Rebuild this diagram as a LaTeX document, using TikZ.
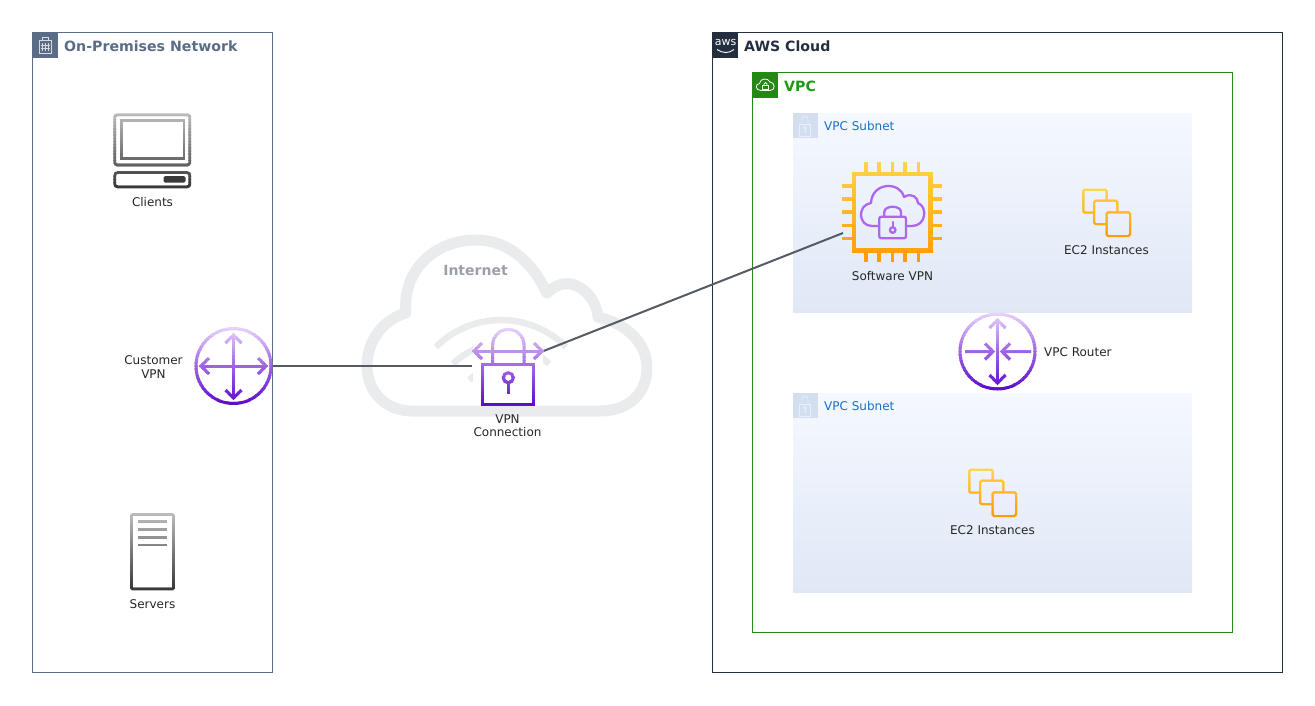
\documentclass[tikz,border=0pt]{standalone}
\usepackage{fontspec}
\setmainfont{DejaVu Sans}
\usetikzlibrary{calc}
\definecolor{premc}{HTML}{5A6C86}
\definecolor{awsc}{HTML}{232F3E}
\definecolor{vpcline}{HTML}{248814}
\definecolor{vpctext}{HTML}{1A9A10}
\definecolor{subtop}{HTML}{F5F8FE}
\definecolor{subbot}{HTML}{E0E8F6}
\definecolor{subicon}{HTML}{D3DEF0}
\definecolor{subtext}{HTML}{1A6FC9}
\definecolor{cloudc}{HTML}{E9EBED}
\definecolor{linec}{HTML}{545B64}
\definecolor{inettext}{HTML}{9BA0A8}
\definecolor{vtop}{HTML}{E6D2FB}
\definecolor{vmid}{HTML}{A166E6}
\definecolor{vbot}{HTML}{5F0FCB}
\definecolor{ytop}{HTML}{FFD447}
\definecolor{ybot}{HTML}{FF9D00}
\definecolor{gtop}{HTML}{BDBDBD}
\definecolor{gbot}{HTML}{3A3A3A}
\definecolor{lockv}{HTML}{AD66F0}
% gradient stroke: #1 top colour, #2 bottom colour, #3 ytop, #4 ybot, #5 drawing
\newcommand{\gradstroke}[5]{%
  \foreach \gi in {0,...,23}{%
    \pgfmathsetmacro{\gya}{#3+(#4-#3)*\gi/24-0.3}%
    \pgfmathsetmacro{\gyb}{#3+(#4-#3)*(\gi+1)/24+0.3}%
    \pgfmathtruncatemacro{\gp}{100-\gi*100/23}%
    \begin{scope}
      \clip (-10,\gya) rectangle (1400,\gyb);
      \colorlet{gc}{#1!\gp!#2}%
      \begin{scope}[draw=gc]#5\end{scope}
    \end{scope}}}
\newcommand{\vgrad}[3]{%
  \foreach \gi in {0,...,23}{%
    \pgfmathsetmacro{\gya}{#1+(#2-#1)*\gi/24-0.3}%
    \pgfmathsetmacro{\gyb}{#1+(#2-#1)*(\gi+1)/24+0.3}%
    \pgfmathtruncatemacro{\gp}{\gi*100/23}%
    \begin{scope}
      \clip (-10,\gya) rectangle (1400,\gyb);
      \pgfmathtruncatemacro{\gq}{\gp<50 ? 100-2*\gp : 2*\gp-100}%
      \ifnum\gp<50 \colorlet{gc}{vtop!\gq!vmid}\else\colorlet{gc}{vbot!\gq!vmid}\fi
      \begin{scope}[draw=gc]#3\end{scope}
    \end{scope}}}
\newcommand{\ecinst}[2]{%
  \begin{scope}[shift={(#1,#2)}]
  \gradstroke{ytop}{ybot}{189}{237}{%
    \draw[line width=2,rounded corners=1.5] (1094,212.7)--(1083.3,212.7)--(1083.3,189.5)--(1106.7,189.5)--(1106.7,200.7);
    \draw[line width=2,rounded corners=1.5] (1106,224)--(1094,224)--(1094,200.7)--(1117.3,200.7)--(1117.3,212.3);
    \draw[line width=2,rounded corners=1.5] (1106.5,212.3) rectangle (1130,236);}
  \end{scope}}
\newcommand{\sublock}[2]{%
  \begin{scope}[shift={(#1,#2)},draw=white!50!subicon,line width=0.9]
    \draw (799.3,124) rectangle (810.7,136);
    \draw (802,124) -- (802,119) arc[start angle=180,end angle=360,radius=3] -- (808,124);
    \draw (805,128) circle[radius=1.5];
    \draw (805,129.5) -- (805,133);
  \end{scope}}
\tikzset{
  grouppb/.style={draw=#1,line width=1,fill=none},
  grouptitle/.style={anchor=west,font=\bfseries\fontsize{14.15}{16}\selectfont,inner sep=0},
  smalllabel/.style={font=\fontsize{12}{14}\selectfont,align=center,text=black!85,inner sep=0},
  subtitle/.style={anchor=west,font=\fontsize{12}{14}\selectfont,text=subtext,inner sep=0},
  iconslot/.style={inner sep=0,minimum width=#1,minimum height=#1},
  link/.style={draw=linec,line width=2},
}
\begin{document}
\begin{tikzpicture}[x=1pt,y=-1pt]
\useasboundingbox (0,0) rectangle (1315,705);
% group boxes
\node[grouppb=premc,inner sep=0,minimum width=240,minimum height=640] (prem) at (152.5,352.5) {};
\node[grouppb=awsc,inner sep=0,minimum width=570,minimum height=640] (aws) at (997.5,352.5) {};
\node[grouppb=vpcline,inner sep=0,minimum width=480,minimum height=560] (vpc) at (992.5,352.5) {};
% subnets
\shade[top color=subtop,bottom color=subbot] (793,113) rectangle (1192,312);
\shade[top color=subtop,bottom color=subbot] (793,393) rectangle (1192,592);
\fill[subicon] (793,113) rectangle (818,138);
\fill[subicon] (793,393) rectangle (818,418);
\sublock{0}{0}\sublock{0}{280}
\node[subtitle] (sub1) at (824,126.5) {VPC Subnet};
\node[subtitle] (sub2) at (824,406.5) {VPC Subnet};
% title icons
\fill[premc] (33,33) rectangle (58,58);
\begin{scope}[draw=white!75!premc,line width=0.8]
  \draw (39.5,53) rectangle (51,40) (42.5,40) rectangle (48,37);
  \draw (42.5,43)--(42.5,51) (45.5,43)--(45.5,51) (48.5,43)--(48.5,51) (41,45)--(50,45) (41,48)--(50,48);
\end{scope}
\fill[awsc] (713,33) rectangle (738,58);
\node[text=white,font=\fontsize{11}{11}\selectfont,inner sep=0] (awslogo) at (725.5,42.5) {aws};
\draw[white,line width=0.9] (717,49.5) .. controls (723,53.5) and (729,53.5) .. (734,49.5);
\fill[vpcline] (753,73) rectangle (778,98);
\begin{scope}[draw=white,line width=0.8]
  \draw (761,90.5) .. controls (755,90.5) and (755,84) .. (759.5,83.5) .. controls (760,78) and (768,77.5) .. (770,82) .. controls (775,82) and (776,90.5) .. (770,90.5) -- cycle;
  \draw (762.5,85.5) rectangle (768.5,89.5);
  \draw (764,85.5) -- (764,84) arc[start angle=180,end angle=360,radius=1.5] -- (767,85.5);
\end{scope}
% titles
\node[grouptitle,text=premc] (premt) at (64,46.5) {On-Premises Network};
\node[grouptitle,text=awsc] (awst) at (744,46.5) {AWS Cloud};
\node[grouptitle,text=vpctext] (vpct) at (784,86.5) {VPC};
% internet cloud
\draw[cloudc,line width=11,line join=round,line cap=round]
  (412,411) -- (600,411)
  .. controls (630,411) and (647,392) .. (647,368)
  .. controls (647,344) and (628,324) .. (598,317)
  .. controls (596,294) and (570,270) .. (547,293)
  .. controls (530,258) and (505,240) .. (476,240)
  .. controls (435,240) and (402,270) .. (406,313)
  .. controls (382,320) and (367,342) .. (367,366)
  .. controls (367,392) and (386,411) .. (412,411) -- cycle;
\begin{scope}[draw=cloudc,line width=6.5]
  \draw (501,412) ++(-45:92) arc[start angle=-45,end angle=-135,radius=92];
  \draw (501,412) ++(-45:68) arc[start angle=-45,end angle=-135,radius=68];
  \draw (501,412) ++(-45:45) arc[start angle=-45,end angle=-135,radius=45];
\end{scope}
\fill[white] (490,327.5) rectangle (527,342);
\fill[white] (472.5,340) rectangle (543,405);
\node[font=\bfseries\fontsize{14}{16}\selectfont,text=inettext,inner sep=0] (inet) at (475.5,270) {Internet};
% icon slots
\node[iconslot=77] (clients) at (152.5,150) {};
\node[iconslot=77] (custvpn) at (233.5,366) {};
\node[iconslot=77] (servers) at (152.5,551) {};
\node[inner sep=0,minimum width=72,minimum height=77] (vpnconn) at (508,366) {};
\node[iconslot=100] (swvpn) at (892.5,212.5) {};
\node[iconslot=77] (router) at (997.5,351) {};
\coordinate (vpnout) at (541,352);
\coordinate (swin) at (843,233);
% connectors
\draw[link] (custvpn.east) -- (vpnconn.west);
\draw[link] (vpnout) -- (swin);
% clients
\gradstroke{gtop}{gbot}{113}{189}{%
  \draw[line width=2.8,rounded corners=2.5] (114.8,114.7) rectangle (189.8,165);
  \draw[line width=2.8] (121.5,120.5) rectangle (184,158.5);
  \draw[line width=2.8,rounded corners=3] (114.8,172.5) rectangle (189.8,187);}
\fill[gbot,rounded corners=1.5] (163.5,176) rectangle (185.5,182.7);
% servers
\gradstroke{gtop}{gbot}{513}{591}{%
  \draw[line width=2.8,rounded corners=1] (131.5,514.5) rectangle (173.5,589);
  \draw[line width=2.8] (137.5,521.7) -- (167,521.7) (137.5,529.5) -- (167,529.5) (137.5,537.3) -- (167,537.3) (137.5,545) -- (167,545);}
% customer VPN
\vgrad{327}{405}{%
  \draw[line width=3] (233.5,366) circle[radius=37.5];
  \draw[line width=3] (201,366) -- (266,366) (233.5,335) -- (233.5,398);
  \draw[line width=3] (209,358) -- (201,366) -- (209,374);
  \draw[line width=3] (258,358) -- (266,366) -- (258,374);
  \draw[line width=3] (225.5,343) -- (233.5,335) -- (241.5,343);
  \draw[line width=3] (225.5,390) -- (233.5,398) -- (241.5,390);}
% router
\vgrad{313}{390}{%
  \draw[line width=3] (997.5,351.5) circle[radius=37.5];
  \draw[line width=3] (997.5,320) -- (997.5,383);
  \draw[line width=3] (989.5,328) -- (997.5,320) -- (1005.5,328);
  \draw[line width=3] (989.5,375) -- (997.5,383) -- (1005.5,375);
  \draw[line width=3] (965,351.5) -- (993,351.5) (985,343.5) -- (993,351.5) -- (985,359.5);
  \draw[line width=3] (1031,351.5) -- (1002,351.5) (1010,343.5) -- (1002,351.5) -- (1010,359.5);}
% VPN lock
\vgrad{328}{406}{%
  \draw[line width=3] (482.7,364.3) rectangle (533.3,404.3);
  \draw[line width=3] (492.7,364.3) -- (492.7,345) arc[start angle=180,end angle=360,radius=15.65] -- (524,364.3);
  \draw[line width=3] (508.3,377.7) circle[radius=5];
  \draw[line width=3] (508.3,382.7) -- (508.3,393.5);
  \draw[line width=3] (474,351) -- (542,351);
  \draw[line width=3] (482,343) -- (474,351) -- (482,359);
  \draw[line width=3] (534,343) -- (542,351) -- (534,359);}
% chip
\gradstroke{ytop}{ybot}{162}{263}{%
  \draw[line width=4.5] (854,174) rectangle (930.7,250.7);
  \foreach \p in {866,879,892.3,905,918.3}{
    \draw[line width=3.3] (\p,162.3) -- (\p,172) (\p,252.7) -- (\p,262.3);}
  \foreach \p in {186,199,212,225.3,238.3}{
    \draw[line width=3.3] (842.3,\p) -- (852,\p) (932.7,\p) -- (942.3,\p);}}
\begin{scope}[draw=lockv,line width=2.3,line cap=round,line join=round]
  \draw (878.5,226) -- (872,226) .. controls (858,226) and (857,205) .. (871,203)
    .. controls (872,182) and (900,181) .. (904,197)
    .. controls (912,192) and (918,198) .. (918,203)
    .. controls (928,207) and (926,226) .. (912,226) -- (906.5,226);
  \draw[rounded corners=2] (879.3,216.7) rectangle (906,238.3);
  \draw (884.3,216.7) -- (884.3,212) .. controls (884.3,205) and (901,205) .. (901,212) -- (901,216.7);
  \draw (892.7,230) circle[radius=2.8];
  \draw (892.7,227) -- (892.7,222);
\end{scope}
% ec2
\ecinst{0}{0}
\ecinst{-114}{280}
% labels
\node[smalllabel] (lclients) at (152.5,202) {Clients};
\node[smalllabel,align=center] (lcust) at (153.5,367) {Customer\\[-0.6pt]VPN};
\node[smalllabel] (lservers) at (152.5,604) {Servers};
\node[smalllabel] (lvpn) at (507.5,426) {VPN\\[-0.6pt]Connection};
\node[smalllabel] (lsw) at (892.5,276) {Software VPN};
\node[smalllabel] (lec1) at (1106.5,250) {EC2 Instances};
\node[smalllabel] (lec2) at (992.5,530) {EC2 Instances};
\node[smalllabel,anchor=west] (lrouter) at (1044,352) {VPC Router};
\end{tikzpicture}
\end{document}
